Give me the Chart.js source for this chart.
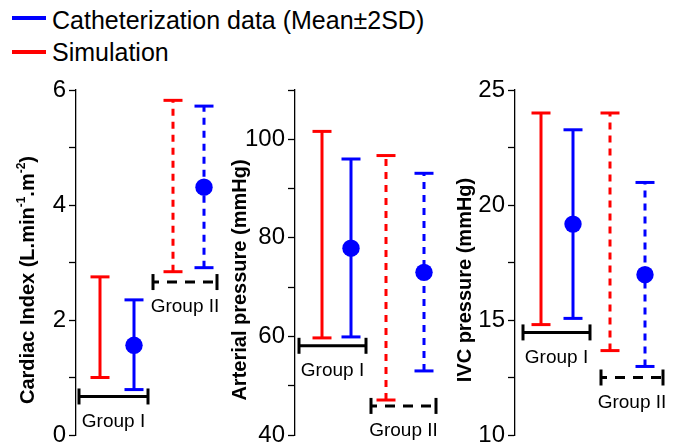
<!DOCTYPE html>
<html>
<head>
<meta charset="utf-8">
<script src="https://cdn.jsdelivr.net/npm/chart.js@4.4.1/dist/chart.umd.min.js"></script>
<style>
    html, body { margin: 0; padding: 0; background: #fff; width: 675px; height: 445px; overflow: hidden; }
    .panel { position: absolute; top: 0; width: 230px; height: 453px; }
    .lg-text { position: absolute; left: 52px; font: 25px 'Liberation Sans', Arial, sans-serif; line-height: 30px; color: #000; white-space: nowrap; }
    .lg-line { position: absolute; left: 12px; width: 34px; height: 4px; }
</style>
</head>
<body>
<div id="legend"></div>
<div class="panel" style="left:6px"><canvas id="c1"></canvas></div>
<div class="panel" style="left:225px"><canvas id="c2"></canvas></div>
<div class="panel" style="left:445px"><canvas id="c3"></canvas></div>
<script>
// Datos
const groups = ['Group I', 'Group II'];
const seriesNames = ['Catheterization data (Mean±2SD)', 'Simulation'];
const axisTitles = ['Cardiac Index (L.min^{-1}.m^{-2})', 'Arterial pressure (mmHg)', 'IVC pressure (mmHg)'];

// Cardiac index
const ciSimLow = [1.0, 2.84];
const ciSimHigh = [2.75, 5.82];
const ciCathLow = [0.79, 2.91];
const ciCathHigh = [2.35, 5.72];
const ciCathMean = [1.56, 4.31];
const ciTicks = [0, 2, 4, 6];

// Arterial pressure
const apSimLow = [59.7, 47.1];
const apSimHigh = [101.6, 96.7];
const apCathLow = [59.9, 53.0];
const apCathHigh = [96.0, 93.1];
const apCathMean = [77.9, 73.0];
const apTicks = [40, 60, 80, 100];

// IVC pressure
const ivcSimLow = [14.8, 13.67];
const ivcSimHigh = [24.0, 24.0];
const ivcCathLow = [15.07, 12.98];
const ivcCathHigh = [23.27, 20.98];
const ivcCathMean = [19.17, 16.97];
const ivcTicks = [10, 15, 20, 25];

const RED = '#ff0000';
const BLUE = '#0000ff';
const FONT = "'Liberation Sans', Arial, sans-serif";

// Layout de cada panel (posiciones en unidades del eje x oculto)
const panels = [
    { id: 'c1', title: axisTitles[0], min: 0, max: 6, step: 1, ticks: ciTicks,
      sim: [ciSimLow, ciSimHigh], cath: [ciCathLow, ciCathHigh, ciCathMean],
      barX: [2.4, 5.8, 9.7, 12.8], brackets: [[0.3, 7.2, 0.67], [7.7, 14.1, 2.66]], titleGap: 48 },
    { id: 'c2', title: axisTitles[1], min: 40, max: 110, step: 10, ticks: apTicks,
      sim: [apSimLow, apSimHigh], cath: [apCathLow, apCathHigh, apCathMean],
      barX: [2.7, 5.6, 9.1, 12.9], brackets: [[0.4, 7.1, 58.1], [7.6, 14.1, 45.9]], titleGap: 55 },
    { id: 'c3', title: axisTitles[2], min: 10, max: 25, step: 2.5, ticks: ivcTicks,
      sim: [ivcSimLow, ivcSimHigh], cath: [ivcCathLow, ivcCathHigh, ivcCathMean],
      barX: [2.6, 5.8, 9.5, 13.0], brackets: [[0.8, 7.5, 14.46], [8.6, 14.8, 12.5]], titleGap: 50 }
];

// Leyenda
const legendEl = document.getElementById('legend');
[[BLUE, 16.3, 4.6], [RED, 49.7, 37.3]].forEach(([c, lineTop, textTop], i) => {
    legendEl.innerHTML += `<div class="lg-line" style="top:${lineTop}px;background:${c}"></div>` +
        `<div class="lg-text" style="top:${textTop}px">${seriesNames[i]}</div>`;
});

function rangeSet(label, x, lo, hi, color, dashed) {
    return {
        label, data: [{ x, y: lo }, { x, y: hi }],
        borderColor: color, borderWidth: 3, borderDash: dashed ? [7, 6] : [],
        pointStyle: 'line', pointRadius: 9.5, pointBorderWidth: 3, pointBorderColor: color,
        clip: false
    };
}

function bracketSet(b, dashed) {
    return {
        label: 'bracket', data: [{ x: b[0], y: b[2] }, { x: b[1], y: b[2] }],
        borderColor: '#000', borderWidth: 3, borderDash: dashed ? [10, 8] : [], borderDashOffset: 4,
        pointStyle: 'line', pointRotation: 90, pointRadius: 8, pointBorderWidth: 3, pointBorderColor: '#000',
        clip: false
    };
}

// Etiquetas "Group I / II" bajo cada corchete
const groupLabels = {
    id: 'groupLabels',
    afterDatasetsDraw(chart, args, opts) {
        const { ctx, scales: { x, y } } = chart;
        ctx.save();
        ctx.font = '19px ' + FONT;
        ctx.fillStyle = '#000';
        ctx.textAlign = 'center';
        ctx.textBaseline = 'middle';
        opts.brackets.forEach((b, i) => {
            ctx.fillText(groups[i], x.getPixelForValue((b[0] + b[1]) / 2), y.getPixelForValue(b[2]) + 25);
        });
        ctx.restore();
    }
};

// Título del eje con superíndices
const axisTitle = {
    id: 'axisTitle',
    afterDraw(chart, args, opts) {
        const { ctx, chartArea } = chart;
        const parts = opts.text.split(/\^\{([^}]*)\}/);
        const big = 'bold 20px ' + FONT, small = 'bold 12px ' + FONT;
        ctx.save();
        let total = 0;
        parts.forEach((p, i) => { ctx.font = i % 2 ? small : big; total += ctx.measureText(p).width; });
        ctx.translate(chartArea.left - opts.gap, 280);
        ctx.rotate(-Math.PI / 2);
        ctx.fillStyle = '#000';
        ctx.textBaseline = 'middle';
        let pos = -total / 2;
        parts.forEach((p, i) => {
            ctx.font = i % 2 ? small : big;
            ctx.fillText(p, pos, i % 2 ? -6 : 0);
            pos += ctx.measureText(p).width;
        });
        ctx.restore();
    }
};

panels.forEach(p => {
    const datasets = [];
    [0, 1].forEach(g => {
        const dashed = g === 1;
        datasets.push(rangeSet(seriesNames[1], p.barX[g * 2], p.sim[0][g], p.sim[1][g], RED, dashed));
        datasets.push(rangeSet(seriesNames[0], p.barX[g * 2 + 1], p.cath[0][g], p.cath[1][g], BLUE, dashed));
        datasets.push(bracketSet(p.brackets[g], dashed));
    });
    datasets.push({
        label: 'mean',
        data: groups.map((_, g) => ({ x: p.barX[g * 2 + 1], y: p.cath[2][g] })),
        showLine: false, pointStyle: 'circle', pointRadius: 8.7, pointBorderWidth: 0,
        pointBackgroundColor: BLUE, clip: false
    });

    new Chart(document.getElementById(p.id), {
        type: 'line',
        data: { datasets },
        options: {
            responsive: true,
            maintainAspectRatio: false,
            animation: false,
            events: [],
            layout: { autoPadding: false, padding: { top: 90, bottom: 18, left: 0, right: 0 } },
            plugins: {
                legend: { display: false },
                tooltip: { enabled: false },
                groupLabels: { brackets: p.brackets },
                axisTitle: { text: p.title, gap: p.titleGap }
            },
            scales: {
                x: { type: 'linear', min: 0, max: 16, display: false },
                y: {
                    min: p.min, max: p.max,
                    ticks: {
                        stepSize: p.step, autoSkip: false, padding: 3, color: '#000',
                        font: { size: 24, family: FONT },
                        callback: v => p.ticks.includes(v) ? v : ''
                    },
                    grid: { drawOnChartArea: false, tickLength: 7, tickColor: '#000', tickWidth: 1.3 },
                    border: { color: '#000', width: 1.3 },
                    afterFit: s => { s.width = 70; }
                }
            }
        },
        plugins: [groupLabels, axisTitle]
    });
});
</script>
</body>
</html>
